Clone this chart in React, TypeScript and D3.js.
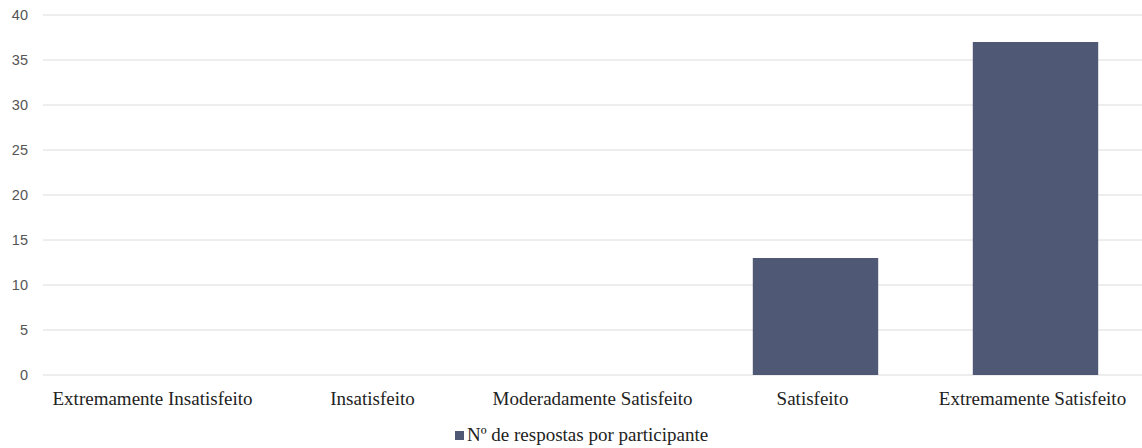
import React from "react";
import * as d3 from "d3";

const categories = [
  "Extremamente Insatisfeito",
  "Insatisfeito",
  "Moderadamente Satisfeito",
  "Satisfeito",
  "Extremamente Satisfeito",
];
const values = [0, 0, 0, 13, 37];
const yTicks = [0, 5, 10, 15, 20, 25, 30, 35, 40];
const seriesName = "Nº de respostas por participante";

const W = 1142;
const H = 448;
const barColor = "#4f5875";

export default function App() {
  const x = d3
    .scaleBand<string>()
    .domain(categories)
    .range([45.5, 1145.5])
    .paddingInner(0.43)
    .paddingOuter(0.215);
  const y = d3.scaleLinear().domain([0, 40]).range([375, 15]);

  return (
    <svg
      width={W}
      height={H}
      style={{ position: "absolute", left: 0, top: 0, background: "#fff" }}
    >
      {yTicks.map((t) => (
        <g key={t}>
          <line
            x1={43}
            x2={W}
            y1={y(t)}
            y2={y(t)}
            stroke="#dcdcdc"
            strokeWidth={1}
          />
          <text
            x={28}
            y={y(t)}
            dy="0.35em"
            textAnchor="end"
            fontFamily="'Liberation Sans', Arial, sans-serif"
            fontSize={14.5}
            fill="#555"
          >
            {t}
          </text>
        </g>
      ))}
      {categories.map((c, i) =>
        values[i] > 0 ? (
          <rect
            key={c}
            x={x(c)}
            y={y(values[i])}
            width={x.bandwidth()}
            height={y(0) - y(values[i])}
            fill={barColor}
          />
        ) : null
      )}
      {categories.map((c) => (
        <text
          key={c}
          x={(x(c) ?? 0) + x.bandwidth() / 2 - 3}
          y={405}
          textAnchor="middle"
          fontFamily="'Liberation Serif', 'Times New Roman', serif"
          fontSize={19}
          fill="#222"
        >
          {c}
        </text>
      ))}
      <g>
        <rect x={455} y={431} width={9} height={9} fill={barColor} />
        <text
          x={467}
          y={441}
          fontFamily="'Liberation Serif', 'Times New Roman', serif"
          fontSize={19}
          fill="#222"
        >
          {seriesName}
        </text>
      </g>
    </svg>
  );
}
